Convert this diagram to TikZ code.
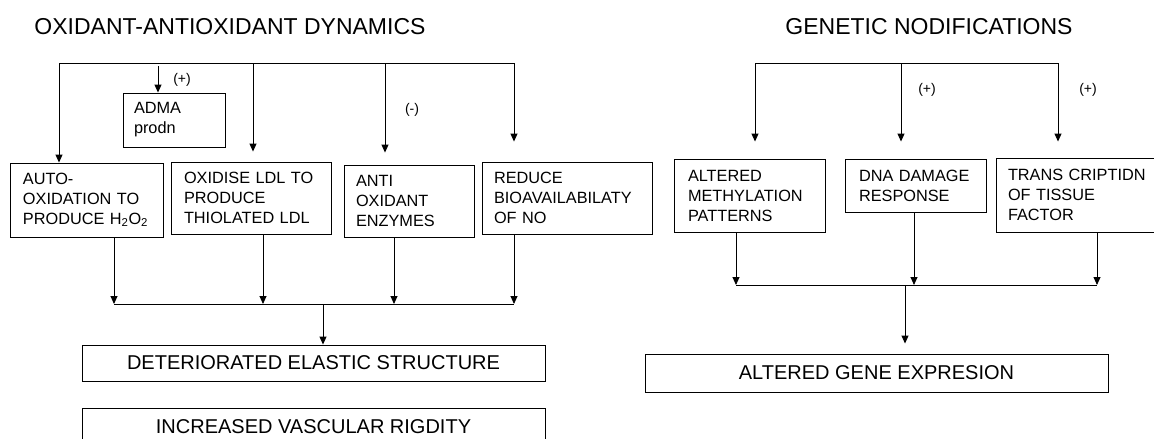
\documentclass[tikz,border=0pt]{standalone}
\usepackage{fontspec}
\setmainfont{Liberation Sans}
\usetikzlibrary{arrows.meta}
\begin{document}
\begin{tikzpicture}[x=1pt,y=-1pt,
  line width=0.9pt,
  arr/.style={-{Triangle[width=7pt,length=8pt]}},
  ttl/.style={font=\fontsize{23}{27}\selectfont, anchor=west, inner sep=0pt},
  lbl/.style={font=\fontsize{14}{16}\selectfont, inner sep=0pt},
  sbox/.style={draw, rectangle, align=left, inner ysep=0pt, font=\fontsize{16.3}{20}\selectfont},
  wbox/.style={draw, rectangle, align=center, inner sep=0pt, font=\fontsize{20}{24}\selectfont},
]
\useasboundingbox (0,0) rectangle (1154,439);

% titles
\node[ttl] (tleft) at (34,27) {OXIDANT-ANTIOXIDANT DYNAMICS};
\node[ttl] (tright) at (785,27) {GENETIC NODIFICATIONS};

% left boxes
\node[sbox, minimum width=102pt, minimum height=54pt, text width=80pt, inner xsep=11pt] (adma) at (174,120) {ADMA\\prodn};
\node[sbox, minimum width=153pt, minimum height=74pt, text width=127pt, inner xsep=13pt] (auto) at (86.5,200) {AUTO-\\OXIDATION TO\\PRODUCE H\textsubscript{2}O\textsubscript{2}};
\node[sbox, minimum width=160pt, minimum height=72pt, text width=134pt, inner xsep=13pt] (oxid) at (251,198) {OXIDISE LDL TO\\PRODUCE\\THIOLATED LDL};
\node[sbox, minimum width=130pt, minimum height=72pt, text width=106pt, inner xsep=12pt] (anti) at (409,201) {ANTI\\OXIDANT\\ENZYMES};
\node[sbox, minimum width=170pt, minimum height=72pt, text width=146pt, inner xsep=12pt] (redu) at (567,198) {REDUCE\\BIOAVAILABILATY\\OF NO};

\node[wbox, minimum width=463pt, minimum height=36pt] (det) at (313.5,363) {DETERIORATED ELASTIC STRUCTURE};
\node[wbox, minimum width=463pt, minimum height=38pt] (inc) at (313.5,427) {INCREASED VASCULAR RIGDITY};

% right boxes
\node[sbox, minimum width=151pt, minimum height=73pt, text width=123pt, inner xsep=14pt] (alt) at (749.5,195.5) {ALTERED\\METHYLATION\\PATTERNS};
\node[sbox, minimum width=141pt, minimum height=53pt, text width=113pt, inner xsep=14pt] (dna) at (915.5,185.5) {DNA DAMAGE\\RESPONSE};
\node[sbox, minimum width=164pt, minimum height=74pt, text width=140pt, inner xsep=12pt] (trans) at (1078,195) {TRANS CRIPTIDN\\OF TISSUE\\FACTOR};
\node[wbox, minimum width=463pt, minimum height=38pt] (gene) at (876.5,373) {ALTERED GENE EXPRESION};

% labels
\node[lbl] (p1) at (182,80) {(+)};
\node[lbl] (m1) at (412,110) {(-)};
\node[lbl] (p2) at (927,90) {(+)};
\node[lbl] (p3) at (1088,90) {(+)};

% left top connectors
\coordinate (lt1) at (59,63);
\coordinate (lt2) at (158,66);
\coordinate (lt3) at (253,63);
\coordinate (lt4) at (385,63);
\coordinate (lt5) at (514,63);
\draw (lt1) -- (lt5);
\draw[arr] (lt1) -- (lt1 |- auto.north);
\draw[arr] (lt2) -- (lt2 |- adma.north);
\draw[arr, shorten >=10pt] (lt3) -- (lt3 |- oxid.north);
\draw[arr, shorten >=12pt] (lt4) -- (lt4 |- anti.north);
\draw[arr, shorten >=20pt] (lt5) -- (lt5 |- redu.north);

% left bottom connectors
\coordinate (lb1) at (114,304);
\coordinate (lb2) at (263,304);
\coordinate (lb3) at (394,304);
\coordinate (lb4) at (514,304);
\coordinate (lbc) at (323,304);
\draw (lb1) -- (lb4);
\draw[arr] (lb1 |- auto.south) -- (lb1);
\draw[arr] (lb2 |- oxid.south) -- (lb2);
\draw[arr] (lb3 |- anti.south) -- (lb3);
\draw[arr] (lb4 |- redu.south) -- (lb4);
\draw[arr] (lbc) -- (lbc |- det.north);

% right top connectors
\coordinate (rt1) at (755,63);
\coordinate (rt2) at (901,63);
\coordinate (rt3) at (1058,63);
\draw (rt1) -- (rt3);
\draw[arr, shorten >=17pt] (rt1) -- (rt1 |- alt.north);
\draw[arr, shorten >=17pt] (rt2) -- (rt2 |- dna.north);
\draw[arr, shorten >=16pt] (rt3) -- (rt3 |- trans.north);

% right bottom connectors
\coordinate (rb1) at (736,285);
\coordinate (rb2) at (914,285);
\coordinate (rb3) at (1097,285);
\coordinate (rbc) at (905,285);
\draw (rb1) -- (rb3);
\draw[arr] (rb1 |- alt.south) -- (rb1);
\draw[arr] (rb2 |- dna.south) -- (rb2);
\draw[arr] (rb3 |- trans.south) -- (rb3);
\draw[arr, shorten >=10pt] (rbc) -- (rbc |- gene.north);
\end{tikzpicture}
\end{document}
